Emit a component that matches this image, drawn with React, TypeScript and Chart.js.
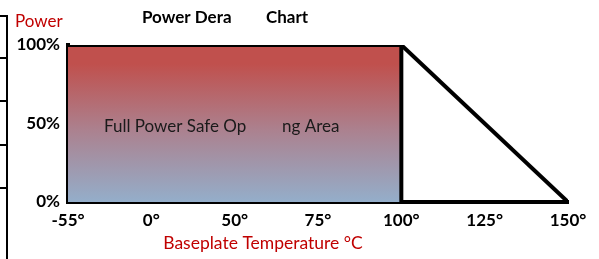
import React, { useEffect, useRef } from "react";
import { Chart, registerables } from "chart.js";

Chart.register(...registerables);

// ---- data ----
const temperatures = [-55, 0, 50, 75, 100, 125, 150];
const tempLabels = ["-55°", "0°", "50°", "75°", "100°", "125°", "150°"];
const powerTicks = [0, 50, 100];
const safeAreaTemps = [-55, 100, 100];
const safeAreaPower = [100, 100, 0];
const deratingTemps = [100, 150];
const deratingPower = [100, 0];

const titleParts = ["Power Dera", "Chart"];
const areaLabelParts = ["Full Power Safe Op", "ng Area"];
const yTitle = "Power";
const xTitle = "Baseplate Temperature °C";

const FONT = "Lato, 'Open Sans', sans-serif";

const toPoints = (temps: number[], power: number[]) =>
  temps.map((t, i) => ({ x: temperatures.indexOf(t), y: power[i] }));

const textPlugin = {
  id: "texts",
  afterDraw(chart: any) {
    const ctx = chart.ctx as CanvasRenderingContext2D;
    const a = chart.chartArea;
    ctx.save();
    // left decorative ruler
    ctx.strokeStyle = "#000";
    ctx.lineWidth = 2;
    ctx.beginPath();
    ctx.moveTo(7, 15);
    ctx.lineTo(7, chart.height);
    [16, 58, 101, 145, 188].forEach((y) => {
      ctx.moveTo(0, y);
      ctx.lineTo(7, y);
    });
    ctx.stroke();

    ctx.textBaseline = "middle";
    // title
    ctx.fillStyle = "#000";
    ctx.font = `bold 17px ${FONT}`;
    ctx.textAlign = "left";
    ctx.fillText(titleParts[0], a.left + 74, 18);
    ctx.fillText(titleParts[1], a.left + 198, 18);
    // y title
    ctx.fillStyle = "#C00000";
    ctx.font = `17px ${FONT}`;
    ctx.fillText(yTitle, 15, 22);
    // x title
    ctx.textAlign = "center";
    ctx.font = `17.5px ${FONT}`;
    ctx.fillText(xTitle, 263, 243);
    // area label
    ctx.fillStyle = "#1a1a1a";
    ctx.textAlign = "left";
    ctx.font = `17px ${FONT}`;
    ctx.fillText(areaLabelParts[0], a.left + 36, 127);
    ctx.fillText(areaLabelParts[1], a.left + 214, 127);
    ctx.restore();
  },
};

export default function App() {
  const ref = useRef<HTMLCanvasElement | null>(null);
  useEffect(() => {
    document.body.style.margin = "0";
    const canvas = ref.current!;
    const chart = new Chart(canvas, {
      type: "scatter",
      data: {
        datasets: [
          {
            label: "Safe area",
            data: toPoints(safeAreaTemps, safeAreaPower),
            showLine: true,
            borderColor: "#000",
            borderWidth: 4,
            pointRadius: 0,
            fill: "origin",
            backgroundColor: (c: any) => {
              const ch = c.chart;
              const ar = ch.chartArea;
              if (!ar) return "rgba(0,0,0,0)";
              const g = ch.ctx.createLinearGradient(0, ar.top, 0, ar.bottom);
              g.addColorStop(0, "#C0504D");
              g.addColorStop(0.12, "#C0504D");
              g.addColorStop(0.55, "#AB8290");
              g.addColorStop(1, "#94AECA");
              return g;
            },
          },
          {
            label: "Derating",
            data: toPoints(deratingTemps, deratingPower),
            showLine: true,
            borderColor: "#000",
            borderWidth: 4,
            pointRadius: 0,
            fill: false,
          },
        ],
      },
      options: {
        animation: false,
        responsive: false,
        maintainAspectRatio: false,
        layout: { padding: { top: 45, right: 31, left: 0, bottom: 0 } },
        plugins: { legend: { display: false }, tooltip: { enabled: false }, title: { display: false } },
        scales: {
          x: {
            type: "linear",
            min: 0,
            max: temperatures.length - 1,
            grid: { display: false, drawTicks: false },
            border: { display: true, color: "#000", width: 4 },
            afterBuildTicks: (s: any) => {
              s.ticks = temperatures.map((_, i) => ({ value: i }));
            },
            afterFit: (s: any) => {
              s.height = 57;
            },
            ticks: {
              padding: 8,
              color: "#000",
              font: { family: FONT, size: 17, weight: "bold" },
              maxRotation: 0,
              autoSkip: false,
              callback: (v: any) => tempLabels[v as number] ?? "",
            },
          },
          y: {
            type: "linear",
            min: 0,
            max: 100,
            grid: { display: false, drawTicks: false },
            border: { display: true, color: "#000", width: 4 },
            afterBuildTicks: (s: any) => {
              s.ticks = powerTicks.map((v) => ({ value: v }));
            },
            afterFit: (s: any) => {
              s.width = 68;
            },
            ticks: {
              padding: 8,
              color: "#000",
              font: { family: FONT, size: 17, weight: "bold" },
              callback: (v: any) => `${v}%`,
            },
          },
        },
      },
      plugins: [textPlugin],
    });
    return () => chart.destroy();
  }, []);
  return (
    <div style={{ width: 599, height: 259 }}>
      <canvas ref={ref} width={599} height={259} style={{ display: "block" }} />
    </div>
  );
}
